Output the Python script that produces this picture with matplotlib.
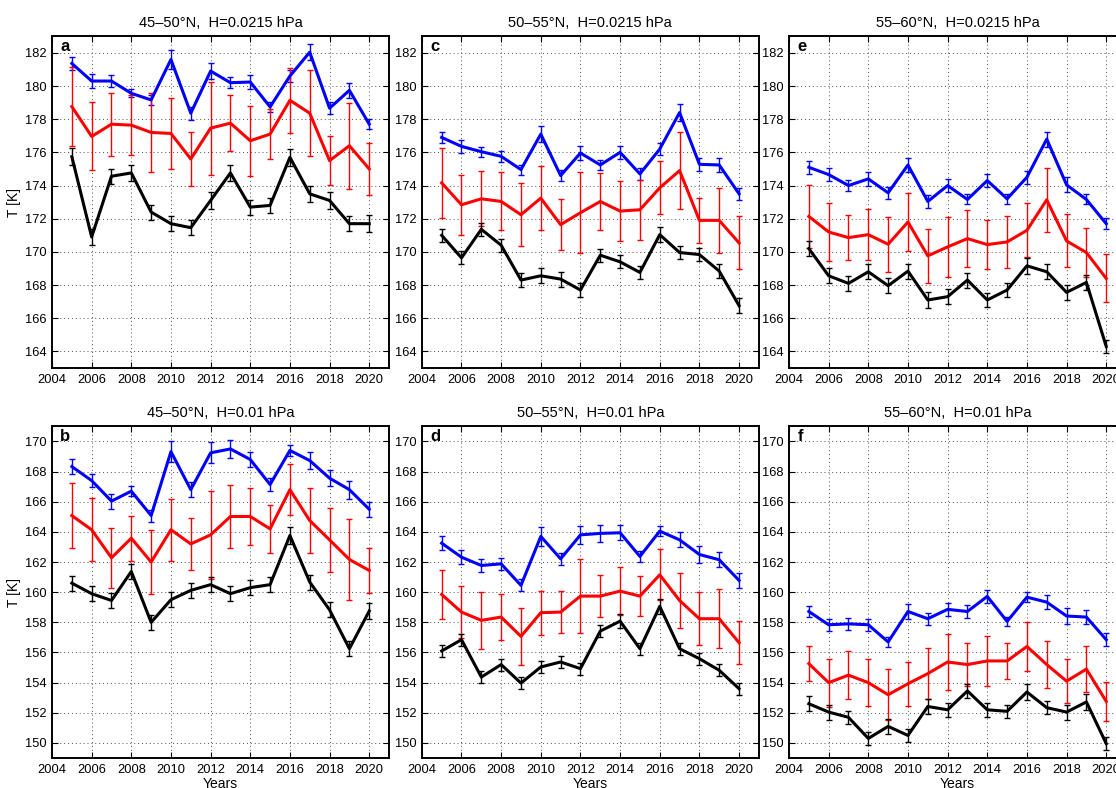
import numpy as np
import matplotlib.pyplot as plt

plt.rcParams['font.family'] = ['Liberation Sans', 'DejaVu Sans']

years = np.arange(2005, 2021)

# 45-50N, H=0.0215 hPa
a_blue = [181.36, 180.3, 180.3, 179.56, 179.16, 181.6, 178.36, 180.9, 180.2, 180.24, 178.74, 180.6, 182.04, 178.66, 179.74, 177.7]
a_blue_err = [0.4, 0.4, 0.35, 0.25, 0.3, 0.6, 0.4, 0.5, 0.35, 0.45, 0.3, 0.35, 0.5, 0.35, 0.45, 0.3]
a_red = [178.76, 176.96, 177.7, 177.64, 177.2, 177.14, 175.6, 177.46, 177.76, 176.7, 177.1, 179.14, 178.36, 175.5, 176.4, 175.0]
a_red_err = [2.4, 2.05, 1.9, 1.8, 2.4, 2.15, 1.6, 2.8, 1.7, 2.1, 1.5, 1.95, 2.6, 1.46, 2.6, 1.56]
a_black = [175.74, 170.9, 174.56, 174.76, 172.4, 171.7, 171.46, 173.1, 174.76, 172.7, 172.8, 175.7, 173.5, 173.1, 171.7, 171.7]
a_black_err = [0.5, 0.5, 0.45, 0.5, 0.45, 0.45, 0.45, 0.5, 0.5, 0.45, 0.45, 0.5, 0.5, 0.5, 0.45, 0.5]

# 50-55N, H=0.0215 hPa
c_blue = [176.9, 176.36, 176.04, 175.76, 174.96, 177.1, 174.6, 175.96, 175.24, 176.0, 174.7, 176.2, 178.4, 175.28, 175.24, 173.5]
c_blue_err = [0.35, 0.4, 0.3, 0.35, 0.3, 0.5, 0.35, 0.45, 0.3, 0.4, 0.35, 0.35, 0.5, 0.4, 0.4, 0.35]
c_red = [174.16, 172.84, 173.2, 173.04, 172.24, 173.24, 171.64, 172.36, 173.04, 172.46, 172.54, 173.86, 174.9, 171.9, 171.9, 170.54]
c_red_err = [2.1, 1.8, 1.65, 1.75, 1.9, 1.95, 1.55, 2.45, 1.7, 1.8, 1.8, 1.6, 2.3, 1.35, 1.95, 1.6]
c_black = [171.0, 169.64, 171.36, 170.4, 168.3, 168.56, 168.36, 167.7, 169.8, 169.4, 168.76, 171.04, 169.96, 169.84, 168.84, 166.76]
c_black_err = [0.4, 0.4, 0.4, 0.4, 0.4, 0.45, 0.45, 0.4, 0.4, 0.4, 0.4, 0.45, 0.4, 0.4, 0.4, 0.45]

# 55-60N, H=0.0215 hPa
e_blue = [175.1, 174.66, 174.0, 174.4, 173.56, 175.24, 173.04, 174.0, 173.16, 174.3, 173.2, 174.5, 176.8, 174.04, 173.16, 171.7]
e_blue_err = [0.4, 0.4, 0.35, 0.4, 0.35, 0.4, 0.4, 0.4, 0.3, 0.4, 0.3, 0.4, 0.45, 0.45, 0.3, 0.35]
e_red = [172.14, 171.2, 170.86, 171.04, 170.46, 171.8, 169.76, 170.3, 170.8, 170.44, 170.6, 171.3, 173.14, 170.66, 169.96, 168.4]
e_red_err = [1.9, 1.75, 1.35, 1.55, 1.67, 1.75, 1.63, 1.8, 1.73, 1.48, 1.55, 1.62, 1.92, 1.6, 1.5, 1.45]
e_black = [170.2, 168.56, 168.1, 168.8, 167.96, 168.84, 167.1, 167.3, 168.3, 167.1, 167.7, 169.16, 168.8, 167.56, 168.16, 164.3]
e_black_err = [0.45, 0.45, 0.45, 0.45, 0.45, 0.45, 0.5, 0.45, 0.45, 0.45, 0.45, 0.5, 0.45, 0.45, 0.45, 0.4]

# 45-50N, H=0.01 hPa
b_blue = [168.33, 167.4, 166.04, 166.7, 165.08, 169.32, 166.8, 169.24, 169.5, 168.8, 167.14, 169.4, 168.73, 167.56, 166.8, 165.5]
b_blue_err = [0.47, 0.45, 0.5, 0.35, 0.4, 0.7, 0.5, 0.7, 0.6, 0.5, 0.4, 0.35, 0.55, 0.55, 0.6, 0.5]
b_red = [165.08, 164.14, 162.28, 163.58, 162.0, 164.14, 163.2, 163.8, 165.02, 165.02, 164.2, 166.8, 164.75, 163.47, 162.17, 161.44]
b_red_err = [2.15, 2.1, 2.0, 1.5, 2.15, 2.05, 1.7, 2.9, 2.1, 1.9, 1.6, 1.7, 2.15, 2.1, 2.7, 1.5]
b_black = [160.6, 159.9, 159.45, 161.37, 158.0, 159.5, 160.12, 160.5, 159.9, 160.3, 160.5, 163.76, 160.67, 158.83, 156.25, 158.75]
b_black_err = [0.5, 0.5, 0.5, 0.5, 0.5, 0.5, 0.5, 0.5, 0.5, 0.5, 0.5, 0.55, 0.5, 0.5, 0.5, 0.5]

# 50-55N, H=0.01 hPa
d_blue = [163.25, 162.32, 161.77, 161.88, 160.45, 163.7, 162.21, 163.8, 163.9, 163.94, 162.37, 164.05, 163.47, 162.5, 162.15, 160.78]
d_blue_err = [0.45, 0.45, 0.45, 0.4, 0.4, 0.65, 0.4, 0.6, 0.55, 0.5, 0.35, 0.35, 0.5, 0.55, 0.5, 0.5]
d_red = [159.85, 158.68, 158.13, 158.35, 157.07, 158.64, 158.68, 159.74, 159.74, 160.07, 159.74, 161.15, 159.45, 158.24, 158.24, 156.65]
d_red_err = [1.63, 1.72, 1.9, 1.5, 1.9, 1.47, 1.37, 2.46, 1.4, 1.58, 1.35, 1.7, 1.84, 1.77, 1.96, 1.42]
d_black = [156.1, 156.85, 154.37, 155.2, 153.97, 155.04, 155.37, 154.93, 157.42, 158.08, 156.25, 159.06, 156.25, 155.59, 154.82, 153.6]
d_black_err = [0.4, 0.4, 0.4, 0.4, 0.4, 0.4, 0.4, 0.4, 0.4, 0.45, 0.4, 0.5, 0.4, 0.4, 0.4, 0.4]

# 55-60N, H=0.01 hPa
f_blue = [158.72, 157.84, 157.9, 157.84, 156.7, 158.72, 158.24, 158.86, 158.72, 159.72, 158.06, 159.67, 159.34, 158.42, 158.35, 156.85]
f_blue_err = [0.38, 0.4, 0.4, 0.4, 0.35, 0.5, 0.4, 0.45, 0.4, 0.45, 0.3, 0.35, 0.45, 0.5, 0.45, 0.45]
f_red = [155.26, 154.0, 154.5, 154.0, 153.2, 153.93, 154.6, 155.37, 155.2, 155.44, 155.44, 156.4, 155.2, 154.1, 154.9, 152.76]
f_red_err = [1.17, 1.6, 1.6, 1.55, 1.7, 1.45, 1.7, 1.85, 1.44, 1.65, 1.2, 1.65, 1.56, 1.46, 1.5, 1.3]
f_black = [152.6, 152.05, 151.7, 150.3, 151.1, 150.5, 152.42, 152.2, 153.45, 152.2, 152.1, 153.38, 152.34, 152.05, 152.72, 149.96]
f_black_err = [0.5, 0.5, 0.45, 0.45, 0.5, 0.45, 0.5, 0.45, 0.45, 0.45, 0.45, 0.5, 0.45, 0.5, 0.5, 0.45]

lat_bands = ['45\u201350\u00b0N', '50\u201355\u00b0N', '55\u201360\u00b0N']
levels = ['0.0215', '0.01']
top_ticks = np.arange(164, 183, 2)
bottom_ticks = np.arange(150, 171, 2)
x_ticks = np.arange(2004, 2021, 2)

fig = plt.figure(figsize=(11.16, 7.88), dpi=100)

lefts = [0.0466, 0.378, 0.707]
width = 0.302
row_bottoms = [0.533, 0.038]
height = 0.421

panels = [
    [('a', a_blue, a_blue_err, a_red, a_red_err, a_black, a_black_err),
     ('c', c_blue, c_blue_err, c_red, c_red_err, c_black, c_black_err),
     ('e', e_blue, e_blue_err, e_red, e_red_err, e_black, e_black_err)],
    [('b', b_blue, b_blue_err, b_red, b_red_err, b_black, b_black_err),
     ('d', d_blue, d_blue_err, d_red, d_red_err, d_black, d_black_err),
     ('f', f_blue, f_blue_err, f_red, f_red_err, f_black, f_black_err)],
]

for row in range(2):
    for col in range(3):
        letter, bl, ble, rd, rde, bk, bke = panels[row][col]
        ax = fig.add_axes([lefts[col], row_bottoms[row], width, height])
        for m, e, c in [(bl, ble, 'b'), (rd, rde, 'r'), (bk, bke, 'k')]:
            ax.errorbar(years, m, yerr=e, color=c, lw=2.2, elinewidth=1.0,
                        capsize=2.5, capthick=1.0)
        ax.set_xlim(2004, 2021)
        ax.set_xticks(x_ticks)
        if row == 0:
            ax.set_ylim(163, 183)
            ax.set_yticks(top_ticks)
        else:
            ax.set_ylim(149, 171)
            ax.set_yticks(bottom_ticks)
            ax.set_xlabel('Years', fontsize=10, labelpad=1)
        if col == 0:
            ax.set_ylabel('T [K]', fontsize=10, labelpad=3)
        ax.set_title(lat_bands[col] + ',  H=' + levels[row] + ' hPa',
                     fontsize=10.5, pad=7)
        ax.grid(True, linestyle=(0, (1, 3)), color='0.3', lw=0.7)
        ax.tick_params(direction='in', top=True, right=True, length=4,
                       width=0.8, labelsize=9.3, pad=4)
        for s in ax.spines.values():
            s.set_linewidth(1.4)
        ax.annotate(letter, xy=(0, 1), xycoords='axes fraction',
                    xytext=(6, -2), textcoords='offset points',
                    fontsize=12, fontweight='bold', va='top', ha='left')

fig.savefig('out.png', dpi=100)
